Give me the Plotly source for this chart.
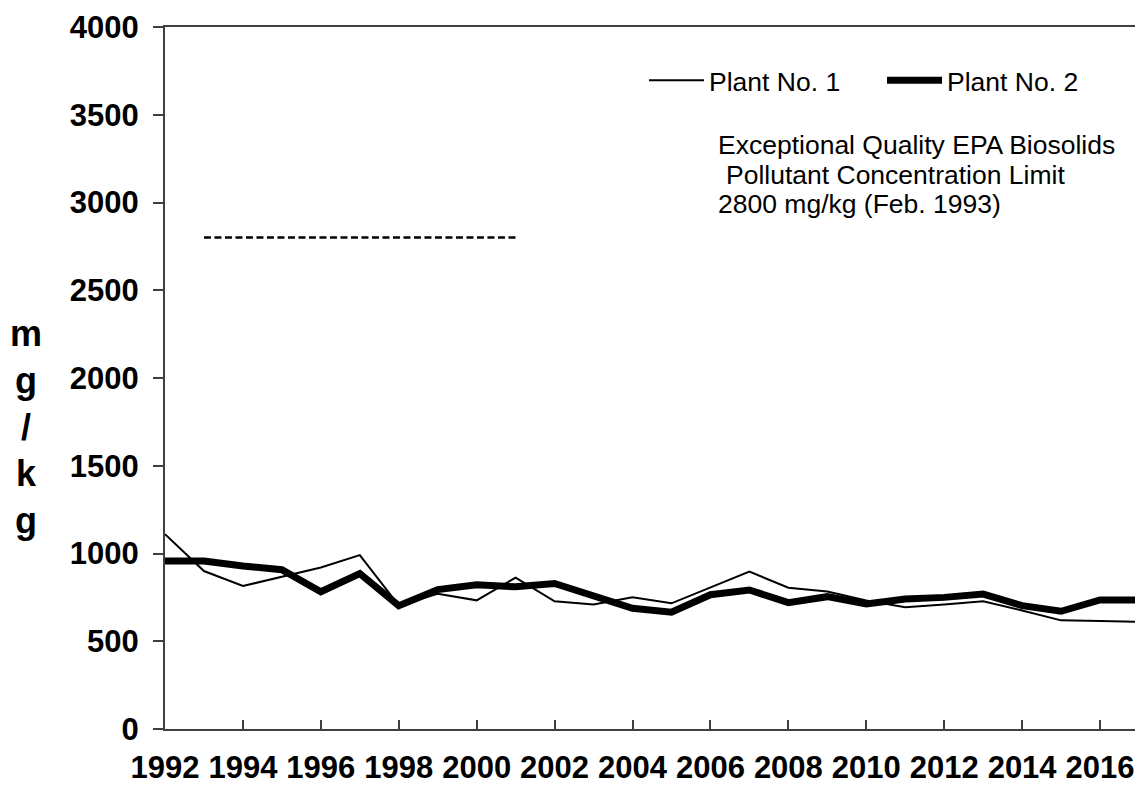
import plotly.graph_objects as go

years = list(range(1992, 2018))
plant1 = [1110, 900, 815, 867, 920, 991, 705, 770, 733, 863, 728, 709, 750,
          716, 807, 897, 805, 784, 732, 694, 709, 728, 675, 619, 615, 611]
plant2 = [957, 957, 929, 908, 782, 886, 703, 794, 822, 810, 829, 754, 688,
          666, 765, 792, 720, 754, 713, 741, 750, 769, 703, 671, 735, 735]
limit_years = [1993, 2001]
limit_values = [2800, 2800]

x_ticks = list(range(1992, 2017, 2))
y_ticks = list(range(0, 4001, 500))

FONT = "Arial, Liberation Sans, sans-serif"

# page body has an 8px margin; plot area spans x 165..1141, y 24..733 in the window
OFF = 8
PL, PT, PW, PH = 165, 24, 976, 709


def px(x):
    return (x - PL) / PW


def py(y):
    return (PT + PH - y) / PH


fig = go.Figure()
fig.add_trace(go.Scatter(x=years, y=plant1, mode="lines", name="Plant No. 1",
                         line=dict(color="black", width=2)))
fig.add_trace(go.Scatter(x=years, y=plant2, mode="lines", name="Plant No. 2",
                         line=dict(color="black", width=7)))
fig.add_trace(go.Scatter(x=limit_years, y=limit_values, mode="lines",
                         showlegend=False,
                         line=dict(color="black", width=2.5, dash="7px,3.5px")))

ann_font = dict(family=FONT, size=26.5, color="black")
fig.add_annotation(text="Exceptional Quality EPA Biosolids", xref="paper", yref="paper",
                   x=px(717), y=py(143), xanchor="left", yanchor="middle",
                   showarrow=False, font=ann_font)
fig.add_annotation(text="Pollutant Concentration Limit", xref="paper", yref="paper",
                   x=px(725), y=py(173), xanchor="left", yanchor="middle",
                   showarrow=False, font=ann_font)
fig.add_annotation(text="2800 mg/kg (Feb. 1993)", xref="paper", yref="paper",
                   x=px(717), y=py(203), xanchor="left", yanchor="middle",
                   showarrow=False, font=ann_font)
fig.add_annotation(text="m<br>g<br>/<br>k<br>g", xref="paper", yref="paper",
                   x=px(26), y=py(428), xanchor="center", yanchor="middle",
                   showarrow=False, font=dict(family=FONT, size=36, color="black", weight="bold"))

axis_common = dict(showgrid=False, zeroline=False, showline=True, linecolor="#404040",
                   linewidth=2, mirror=True, ticklabeloverflow="allow",
                   tickfont=dict(family=FONT, size=31, color="black", weight="bold"),
                   tickcolor="#404040", tickwidth=1.5)

fig.update_xaxes(range=[1992, 2017], tickvals=x_ticks, ticks="inside", ticklen=9,
                 ticklabelstandoff=10, **axis_common)
fig.update_yaxes(range=[0, 4000], tickvals=y_ticks, ticks="outside", ticklen=10,
                 ticklabelstandoff=8, **axis_common)

W, H = 1143 - OFF, 787 - OFF
fig.update_layout(
    width=W, height=H,
    margin=dict(l=PL - OFF, r=W - (PL - OFF) - PW, t=PT - OFF, b=H - (PT - OFF) - PH),
    paper_bgcolor="white", plot_bgcolor="white",
    font=dict(family=FONT, color="black"),
    legend=dict(orientation="h", x=px(645), y=py(78),
                xanchor="left", yanchor="middle", bgcolor="rgba(0,0,0,0)",
                font=dict(family=FONT, size=26.5, color="black"),
                entrywidth=168, itemwidth=55),
)

fig.write_html("out.html")
